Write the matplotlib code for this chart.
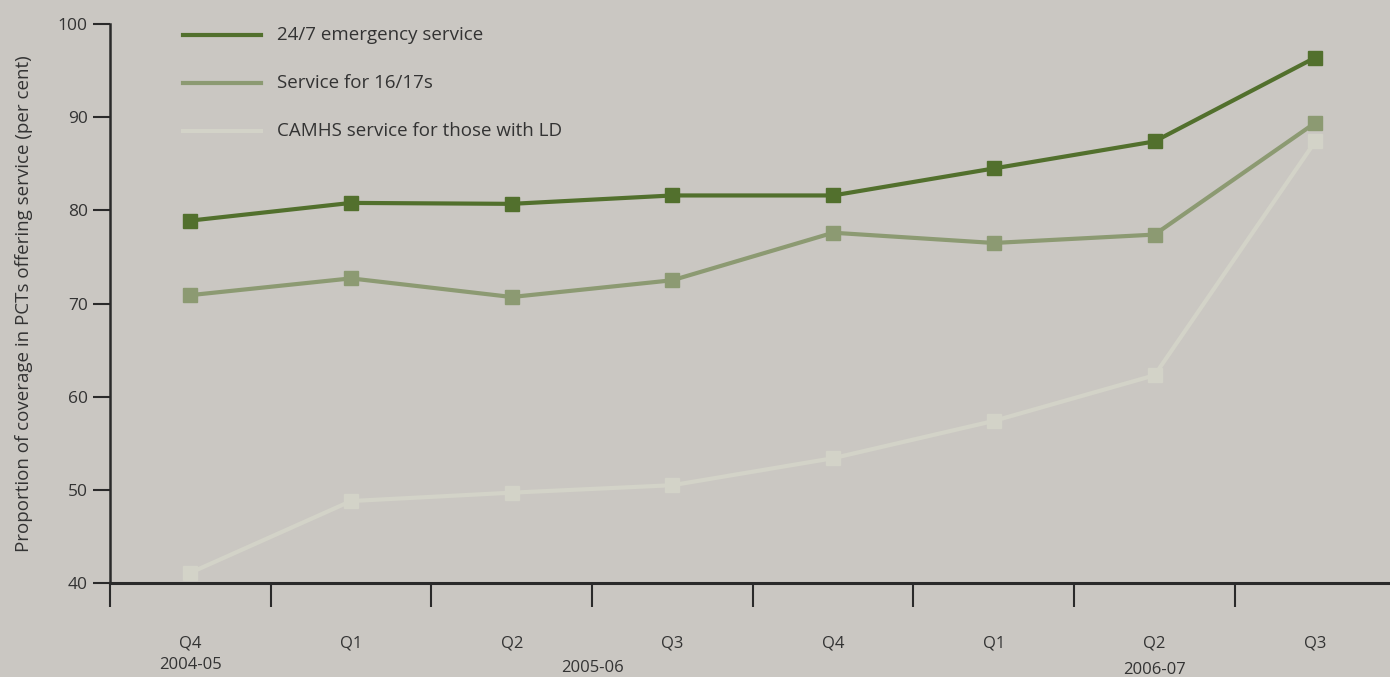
import numpy as np
import matplotlib.pyplot as plt
from matplotlib.transforms import blended_transform_factory

plt.rcParams['font.family'] = ['Open Sans', 'DejaVu Sans']

quarters = ['Q4', 'Q1', 'Q2', 'Q3', 'Q4', 'Q1', 'Q2', 'Q3']
years = ['2004-05', '2005-06', '2006-07']
year_pos = [0.5, 3.0, 6.5]   # where the year labels sit under the quarters
year_y = [0.018, 0.013, 0.010]  # photo is slightly tilted

emergency = [78.9, 80.8, 80.7, 81.6, 81.6, 84.5, 87.4, 96.4]
service_1617 = [70.9, 72.7, 70.7, 72.5, 77.6, 76.5, 77.4, 89.4]
camhs_ld = [41.1, 48.8, 49.7, 50.5, 53.4, 57.4, 62.3, 87.4]

series = [
	('24/7 emergency service', emergency, '#52702d'),
	('Service for 16/17s', service_1617, '#8c9a72'),
	('CAMHS service for those with LD', camhs_ld, '#d3d3c8'),
]

bg = '#cac7c2'
txt = '#333333'

fig = plt.figure(figsize=(13.9, 6.77), dpi=100, facecolor=bg)
ax = fig.add_axes([0.0791, 0.1388, 0.9209, 0.8257], facecolor=bg)

x = np.arange(len(quarters)) + 0.5
# draw lightest first so darker lines sit on top
for name, vals, col in reversed(series):
	ax.plot(x, vals, color=col, lw=3, marker='s', ms=10, solid_joinstyle='round')

ax.set_ylim(40, 100)
ax.set_xlim(0, 7.965)
ax.set_yticks(range(40, 101, 10))
ax.set_xticks(range(0, 8))
ax.set_xticklabels([])
ax.set_xticks(x, minor=True)
ax.set_xticklabels(quarters, minor=True)

for s in ['top', 'right']:
	ax.spines[s].set_visible(False)
ax.spines['left'].set_linewidth(1.8)
ax.spines['bottom'].set_linewidth(2.2)
ax.spines['left'].set_color('#2a2a2a')
ax.spines['bottom'].set_color('#2a2a2a')

ax.tick_params(axis='y', direction='out', length=12, width=1.5, colors='#2a2a2a',
			   labelsize=12.5, labelcolor=txt, pad=4)
ax.tick_params(axis='x', which='major', direction='out', length=17, width=1.5, colors='#2a2a2a')
ax.tick_params(axis='x', which='minor', length=0, labelsize=12, labelcolor=txt, pad=38)

tr = blended_transform_factory(ax.transData, fig.transFigure)
for yr, px, py in zip(years, year_pos, year_y):
	ax.text(px, py, yr, transform=tr, ha='center', va='center', fontsize=12, color=txt)

ax.set_ylabel('Proportion of coverage in PCTs offering service (per cent)',
			  fontsize=13.5, color=txt, labelpad=18)

# legend drawn by hand, line samples then text
for i, (name, vals, col) in enumerate(series):
	yy = 0.948 - i * 0.071
	fig.add_artist(plt.Line2D([0.132, 0.188], [yy, yy], color=col, lw=3, transform=fig.transFigure))
	fig.text(0.199, yy, name, fontsize=13.5, color=txt, va='center', ha='left')

fig.savefig('out.png', dpi=100, facecolor=bg)
